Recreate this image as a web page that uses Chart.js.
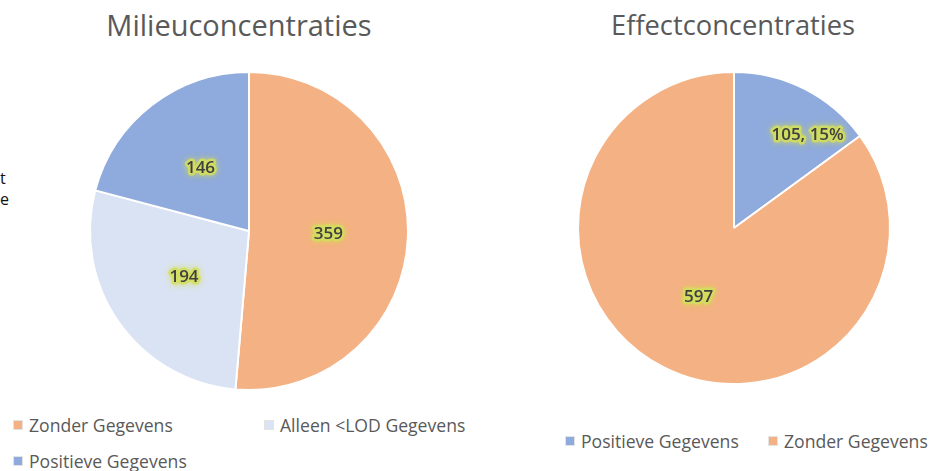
<!DOCTYPE html>
<html>
<head>
<meta charset="utf-8">
<script src="https://cdn.jsdelivr.net/npm/chart.js@4.4.1/dist/chart.umd.min.js"></script>
<style>
  body { margin: 0; background: #fff; font-family: "Open Sans", "Noto Sans", sans-serif; }
  #wrap { position: relative; width: 929px; height: 471px; overflow: hidden; }
  .title { position: absolute; top: 5px; font-size: 29px; color: #595959; text-align: center; white-space: nowrap; }
  .side { position: absolute; left: 0px; font-size: 16px; color: #111; }
  .legend { position: absolute; font-size: 17.6px; color: #595959; white-space: nowrap; }
  .legend .box { display: inline-block; width: 8px; height: 8px; margin-right: 6px; vertical-align: middle; border: 1px solid #e4e4e4; position: relative; top: -2px; }
  canvas { position: absolute; }
</style>
</head>
<body>
<div id="wrap">
  <div class="title" style="left:89px;width:300px;">Milieuconcentraties</div>
  <div class="title" style="left:583px;width:300px;top:6px;font-size:27.3px;">Effectconcentraties</div>
  <div class="side" style="top:167px;">t</div>
  <div class="side" style="top:188px;">e</div>
  <div id="legendLeft"></div>
  <div id="legendRight"></div>
  <canvas id="leftChart" style="left:0;top:0;"></canvas>
  <canvas id="rightChart" style="left:480px;top:0;"></canvas>
</div>
<script>
const leftLabels = ['Zonder Gegevens', 'Alleen <LOD Gegevens', 'Positieve Gegevens'];
const leftValues = [359, 194, 146];
const leftColors = ['#F4B183', '#DAE3F3', '#8FAADC'];

const rightLabels = ['Positieve Gegevens', 'Zonder Gegevens'];
const rightValues = [105, 597];
const rightColors = ['#8FAADC', '#F4B183'];
const rightShowPercent = [true, false];

// draws the value labels with a yellow glow, like the excel original
const sliceLabels = {
  id: 'sliceLabels',
  afterDatasetsDraw(chart, args, opts) {
    const c = chart.ctx;
    const meta = chart.getDatasetMeta(0);
    const vals = chart.data.datasets[0].data;
    const total = vals.reduce((a, b) => a + b, 0);
    meta.data.forEach((arc, i) => {
      const p = arc.getProps(['x', 'y', 'startAngle', 'endAngle', 'outerRadius'], true);
      const f = (opts.radius && opts.radius[i]) || 0.5;
      const a = (p.startAngle + p.endAngle) / 2 + ((opts.shift && opts.shift[i]) || 0);
      const px = p.x + Math.cos(a) * p.outerRadius * f;
      const py = p.y + Math.sin(a) * p.outerRadius * f;
      let txt = String(vals[i]);
      if (opts.percent && opts.percent[i]) txt += ', ' + Math.round(vals[i] / total * 100) + '%';
      c.save();
      c.font = '600 17px "Open Sans", "Noto Sans", sans-serif';
      c.textAlign = 'center';
      c.textBaseline = 'middle';
      c.lineJoin = 'round';
      c.shadowColor = 'rgba(215,225,70,0.9)';
      c.shadowBlur = 6;
      c.strokeStyle = 'rgba(210,222,95,0.85)';
      c.lineWidth = 5;
      c.strokeText(txt, px, py);
      c.shadowBlur = 0;
      c.fillStyle = '#404040';
      c.fillText(txt, px, py);
      c.restore();
    });
  }
};

function makePie(id, w, h, labels, values, colors, padding, labelOpts) {
  const cv = document.getElementById(id);
  cv.width = w; cv.height = h;
  cv.style.width = w + 'px'; cv.style.height = h + 'px';
  return new Chart(cv.getContext('2d'), {
    type: 'pie',
    data: {
      labels: labels,
      datasets: [{
        data: values,
        backgroundColor: colors,
        borderColor: '#ffffff',
        borderWidth: 2
      }]
    },
    options: {
      responsive: false,
      animation: false,
      layout: { padding: padding },
      plugins: {
        legend: { display: false },
        tooltip: { enabled: false },
        sliceLabels: labelOpts
      }
    },
    plugins: [sliceLabels]
  });
}

const leftChart = makePie('leftChart', 480, 400, leftLabels, leftValues, leftColors,
  { top: 71, left: 89, right: 71, bottom: 9 }, {});
const rightChart = makePie('rightChart', 449, 400, rightLabels, rightValues, rightColors,
  { top: 71, left: 97, right: 38, bottom: 15 },
  { percent: rightShowPercent, radius: [0.76, 0.5], shift: [0.2, 0] });

// html legends built from the chart data
function buildLegend(elId, chart, spots) {
  const el = document.getElementById(elId);
  chart.data.labels.forEach((lab, i) => {
    const d = document.createElement('div');
    d.className = 'legend';
    d.style.left = spots[i][0] + 'px';
    d.style.top = spots[i][1] + 'px';
    const b = document.createElement('span');
    b.className = 'box';
    b.style.background = chart.data.datasets[0].backgroundColor[i];
    d.appendChild(b);
    d.appendChild(document.createTextNode(lab));
    el.appendChild(d);
  });
}
buildLegend('legendLeft', leftChart, [[13, 413], [264, 413], [13, 449]]);
buildLegend('legendRight', rightChart, [[565, 429], [768, 429]]);
</script>
</body>
</html>
